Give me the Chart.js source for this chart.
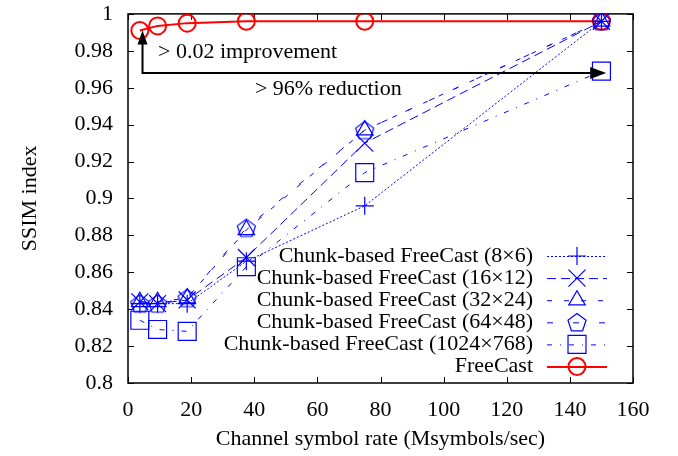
<!DOCTYPE html>
<html>
<head>
<meta charset="utf-8">
<script src="https://cdn.jsdelivr.net/npm/chart.js@4/dist/chart.umd.min.js"></script>
<style>
  html, body { margin: 0; padding: 0; background: #fff; }
  #wrap { width: 678px; height: 456px; }
</style>
</head>
<body>
<div id="wrap"><canvas id="c" width="678" height="456"></canvas></div>
<script>
// Channel symbol rates (Msymbols/sec)
const rates = [3.75, 9.375, 18.75, 37.5, 75, 150];

// SSIM per scheme
const ssim8x6     = [0.843, 0.843, 0.843, 0.866, 0.896, 0.996];
const ssim16x12   = [0.844, 0.843, 0.845, 0.868, 0.930, 0.996];
const ssim32x24   = [0.844, 0.844, 0.846, 0.883, 0.937, 0.996];
const ssim64x48   = [0.843, 0.843, 0.846, 0.884, 0.937, 0.996];
const ssim1024x768 = [0.834, 0.829, 0.828, 0.863, 0.914, 0.969];
const ssimFreeCast = [0.991, 0.9935, 0.995, 0.996, 0.996, 0.996];

const seriesNames = [
  'Chunk-based FreeCast (8\u00d76)',
  'Chunk-based FreeCast (16\u00d712)',
  'Chunk-based FreeCast (32\u00d724)',
  'Chunk-based FreeCast (64\u00d748)',
  'Chunk-based FreeCast (1024\u00d7768)',
  'FreeCast'
];

// Axis ticks
const xTickValues = [0, 20, 40, 60, 80, 100, 120, 140, 160];
const yTickValues = [0.8, 0.82, 0.84, 0.86, 0.88, 0.9, 0.92, 0.94, 0.96, 0.98, 1];
const yTickLabels = ['0.8', '0.82', '0.84', '0.86', '0.88', '0.9', '0.92', '0.94', '0.96', '0.98', '1'];

// Annotation arrows: corner point, tip of upward arrow, tip of rightward arrow
const arrowCorner = [4.6, 0.968];
const arrowUpTip = 0.991;
const arrowRightTip = 151.5;
const noteImprovement = { text: '> 0.02 improvement', x: 9.5, y: 0.979 };
const noteReduction = { text: '> 96% reduction', x: 40.2, y: 0.9593 };

const FONT = '"Liberation Serif", "DejaVu Serif", serif';
const FSIZE = 22;
const BLUE = '#0000ff';
const RED = '#ff0000';

function makePentagon(r, color, lw) {
  const s = Math.ceil(2 * r + 4);
  const cv = document.createElement('canvas');
  cv.width = s; cv.height = s;
  const g = cv.getContext('2d');
  g.strokeStyle = color; g.lineWidth = lw;
  g.beginPath();
  for (let k = 0; k < 5; k++) {
    const a = -Math.PI / 2 + k * 2 * Math.PI / 5;
    const px = s / 2 + r * Math.cos(a), py = s / 2 + r * Math.sin(a) + 0.8;
    k === 0 ? g.moveTo(px, py) : g.lineTo(px, py);
  }
  g.closePath(); g.stroke();
  return cv;
}
const pentagonImg = makePentagon(9.5, BLUE, 1.2);

function blueSeries(i, data, style, radius, dash) {
  return {
    label: seriesNames[i],
    data: rates.map((x, k) => ({ x: x, y: data[k] })),
    borderColor: BLUE, borderWidth: 1, borderDash: dash,
    pointStyle: style, pointRadius: radius, pointBorderColor: BLUE,
    pointBorderWidth: 1.2, pointBackgroundColor: 'rgba(0,0,0,0)',
    legendStyle: style === pentagonImg ? 'pentagon' : style, legendRadius: radius,
    fill: false, tension: 0
  };
}

const datasets = [
  blueSeries(0, ssim8x6, 'cross', 9, [2, 2]),
  blueSeries(1, ssim16x12, 'crossRot', 12, [9, 5]),
  blueSeries(2, ssim32x24, 'triangle', 9.5, [5, 12]),
  blueSeries(3, ssim64x48, pentagonImg, 9.5, [6, 20]),
  blueSeries(4, ssim1024x768, 'rect', 12.7, [5, 8, 1, 8]),
  {
    label: seriesNames[5],
    data: rates.map((x, k) => ({ x: x, y: ssimFreeCast[k] })),
    borderColor: RED, borderWidth: 2, borderDash: [],
    pointStyle: 'circle', pointRadius: 8.5, pointBorderColor: RED,
    pointBorderWidth: 2, pointBackgroundColor: 'rgba(0,0,0,0)',
    legendStyle: 'circle', legendRadius: 8.5,
    fill: false, tension: 0
  }
];

function drawSymbol(ctx, style, x, y, r) {
  ctx.beginPath();
  if (style === 'cross') {
    ctx.moveTo(x - r, y); ctx.lineTo(x + r, y);
    ctx.moveTo(x, y - r); ctx.lineTo(x, y + r);
  } else if (style === 'crossRot') {
    const o = r * Math.SQRT1_2;
    ctx.moveTo(x - o, y - o); ctx.lineTo(x + o, y + o);
    ctx.moveTo(x - o, y + o); ctx.lineTo(x + o, y - o);
  } else if (style === 'triangle') {
    for (let k = 0; k < 3; k++) {
      const a = -Math.PI / 2 + k * 2 * Math.PI / 3;
      const px = x + r * Math.cos(a), py = y + r * Math.sin(a);
      k === 0 ? ctx.moveTo(px, py) : ctx.lineTo(px, py);
    }
    ctx.closePath();
  } else if (style === 'pentagon') {
    for (let k = 0; k < 5; k++) {
      const a = -Math.PI / 2 + k * 2 * Math.PI / 5;
      const px = x + r * Math.cos(a), py = y + r * Math.sin(a) + 0.8;
      k === 0 ? ctx.moveTo(px, py) : ctx.lineTo(px, py);
    }
    ctx.closePath();
  } else if (style === 'rect') {
    const s = r * Math.SQRT1_2;
    ctx.rect(x - s, y - s, 2 * s, 2 * s);
  } else {
    ctx.arc(x, y, r, 0, Math.PI * 2);
  }
  ctx.stroke();
}

// Frame with inward tick marks on all four sides
const framePlugin = {
  id: 'frame',
  beforeDatasetsDraw(chart) {
    const { ctx, chartArea: a, scales } = chart;
    const L = 6;
    ctx.save();
    ctx.strokeStyle = '#000'; ctx.lineWidth = 1.5; ctx.setLineDash([]);
    ctx.strokeRect(a.left, a.top, a.right - a.left, a.bottom - a.top);
    ctx.lineWidth = 1;
    ctx.beginPath();
    xTickValues.forEach(v => {
      const px = Math.round(scales.x.getPixelForValue(v)) + 0.5;
      ctx.moveTo(px, a.bottom); ctx.lineTo(px, a.bottom - L);
      ctx.moveTo(px, a.top); ctx.lineTo(px, a.top + L);
    });
    yTickValues.forEach(v => {
      const py = Math.round(scales.y.getPixelForValue(v)) + 0.5;
      ctx.moveTo(a.left, py); ctx.lineTo(a.left + L, py);
      ctx.moveTo(a.right, py); ctx.lineTo(a.right - L, py);
    });
    ctx.stroke();
    ctx.restore();
  },
  afterDraw(chart) {
    const { ctx, scales } = chart;
    const sx = scales.x, sy = scales.y;
    ctx.save();
    // Arrows
    const cx = sx.getPixelForValue(arrowCorner[0]);
    const cy = sy.getPixelForValue(arrowCorner[1]);
    const upY = sy.getPixelForValue(arrowUpTip);
    const rightX = sx.getPixelForValue(arrowRightTip);
    ctx.strokeStyle = '#000'; ctx.fillStyle = '#000'; ctx.lineWidth = 2; ctx.setLineDash([]);
    ctx.beginPath();
    ctx.moveTo(cx, upY + 12); ctx.lineTo(cx, cy); ctx.lineTo(rightX - 14, cy);
    ctx.stroke();
    ctx.beginPath();
    ctx.moveTo(cx, upY); ctx.lineTo(cx - 5, upY + 14); ctx.lineTo(cx + 5, upY + 14); ctx.closePath();
    ctx.fill();
    ctx.beginPath();
    ctx.moveTo(rightX, cy); ctx.lineTo(rightX - 16, cy - 6); ctx.lineTo(rightX - 16, cy + 6); ctx.closePath();
    ctx.fill();
    // Notes
    ctx.font = FSIZE + 'px ' + FONT;
    ctx.textAlign = 'left'; ctx.textBaseline = 'middle';
    [noteImprovement, noteReduction].forEach(n => {
      ctx.fillText(n.text, sx.getPixelForValue(n.x), sy.getPixelForValue(n.y));
    });

    // Legend: right-aligned labels, line sample with marker on the right
    const textRight = 533, lineL = 547, lineR = 607, rowTop = 256, rowGap = 22.1;
    chart.data.datasets.forEach((ds, i) => {
      const y = rowTop + i * rowGap;
      ctx.fillStyle = '#000';
      ctx.textAlign = 'right';
      ctx.fillText(ds.label, textRight, y);
      ctx.strokeStyle = ds.borderColor; ctx.lineWidth = ds.borderWidth;
      ctx.setLineDash(ds.borderDash);
      ctx.beginPath(); ctx.moveTo(lineL, y + 0.5); ctx.lineTo(lineR, y + 0.5); ctx.stroke();
      ctx.setLineDash([]);
      ctx.lineWidth = ds.pointBorderWidth;
      drawSymbol(ctx, ds.legendStyle, (lineL + lineR) / 2, y, ds.legendRadius);
    });
    ctx.restore();
  }
};

new Chart(document.getElementById('c'), {
  type: 'line',
  data: { datasets: datasets },
  plugins: [framePlugin],
  options: {
    responsive: false,
    animation: false,
    events: [],
    layout: { padding: { left: 0, right: 45, top: 13, bottom: 0 } },
    plugins: { legend: { display: false }, tooltip: { enabled: false } },
    scales: {
      x: {
        type: 'linear', min: 0, max: 160,
        afterBuildTicks: s => { s.ticks = xTickValues.map(v => ({ value: v })); },
        afterFit: s => { s.height = 73; s.paddingLeft = 0; s.paddingRight = 0; },
        grid: { display: false, drawTicks: false },
        border: { display: false },
        ticks: { color: '#000', font: { family: FONT, size: FSIZE }, padding: 14, maxRotation: 0,
                 callback: v => String(v) },
        title: { display: true, text: 'Channel symbol rate (Msymbols/sec)', color: '#000',
                 font: { family: FONT, size: FSIZE }, padding: { top: 0, bottom: 4 } }
      },
      y: {
        type: 'linear', min: 0.8, max: 1,
        afterBuildTicks: s => { s.ticks = yTickValues.map(v => ({ value: v })); },
        afterFit: s => { s.width = 128; s.paddingTop = 0; s.paddingBottom = 0; },
        grid: { display: false, drawTicks: false },
        border: { display: false },
        ticks: { color: '#000', font: { family: FONT, size: FSIZE }, padding: 15,
                 callback: (v, i) => yTickLabels[i] },
        title: { display: true, text: 'SSIM index', color: '#000',
                 font: { family: FONT, size: FSIZE }, padding: { top: 17, bottom: 0 } }
      }
    }
  }
});
</script>
</body>
</html>
